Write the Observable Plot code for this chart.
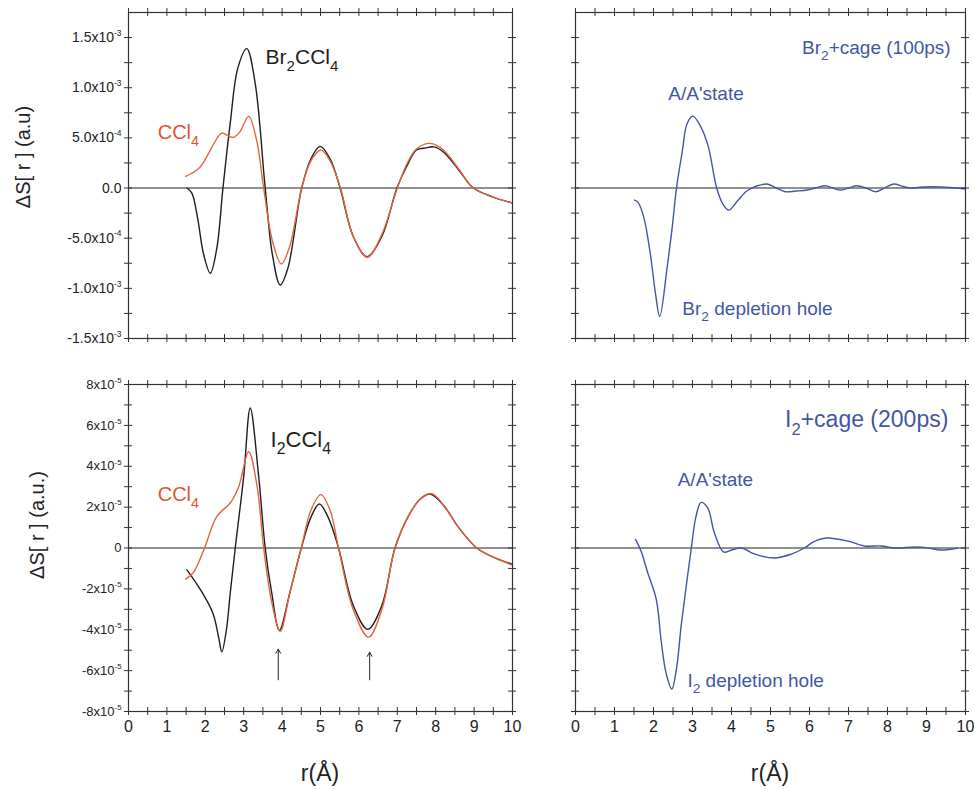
<!DOCTYPE html>
<html><head><meta charset="utf-8">
<script src="https://cdn.jsdelivr.net/npm/d3@7"></script>
<script src="https://cdn.jsdelivr.net/npm/@observablehq/plot@0.6"></script>
<style>
body{margin:0;background:#fff;font-family:"Liberation Sans",Arial,sans-serif;}
#wrap{position:relative;width:974px;height:789px;overflow:hidden;background:#fff;}
.panel{position:absolute;}
.panel svg{overflow:visible;}
.ytitle{position:absolute;transform:translate(-50%,-50%) rotate(-90deg);white-space:nowrap;font-size:20px;color:#222;}
.xtitle{position:absolute;transform:translate(-50%,-50%);white-space:nowrap;font-size:23px;color:#222;}
</style></head><body><div id="wrap"></div>
<script>
// ---------- data ----------
const BLACK = "#1e1e1e", ORANGE = "#e6633f", BLUE = "#4356a3", ORANGE_TXT = "#e4532e";

// Top-left: Br2CCl4 (black) and CCl4 (orange)
const br2ccl4_r = [1.52,1.65,1.8,1.95,2.13,2.3,2.46,2.65,2.85,3.08,3.3,3.56,3.75,3.95,4.15,4.51,4.75,4.99,5.25,5.51,5.85,6.21,6.6,6.99,7.25,7.5,7.75,7.95,8.2,8.6,8.98,9.5,10];
const br2ccl4_v = [0,-0.5e-4,-3e-4,-6.5e-4,-8.5e-4,-6e-4,0,6.5e-4,12e-4,13.9e-4,10.4e-4,0,-6.7e-4,-9.67e-4,-8e-4,0,2.9e-4,4.15e-4,2.9e-4,0,-4.8e-4,-6.84e-4,-4.8e-4,0,2.2e-4,3.8e-4,4.0e-4,4.1e-4,3.6e-4,1.8e-4,0,-0.9e-4,-1.5e-4];
const ccl4Top_r = [1.49,1.7,1.86,2.05,2.25,2.43,2.6,2.73,2.9,3.13,3.34,3.52,3.75,3.98,4.2,4.51,4.75,5.01,5.25,5.52,5.85,6.22,6.6,7.0,7.25,7.5,7.86,8.2,8.6,8.98,9.5,10];
const ccl4Top_v = [1.16e-4,1.6e-4,2.06e-4,3.2e-4,4.6e-4,5.48e-4,5.2e-4,5.05e-4,5.6e-4,7.14e-4,4.7e-4,0,-5.3e-4,-7.57e-4,-5.8e-4,0,2.7e-4,3.79e-4,2.7e-4,0,-4.8e-4,-6.9e-4,-4.6e-4,0,2.4e-4,3.9e-4,4.45e-4,3.8e-4,1.9e-4,0,-0.9e-4,-1.5e-4];

// Top-right: Br2 + cage (100 ps)
const br2cage_r = [1.51,1.6,1.75,1.92,2.05,2.16,2.35,2.48,2.59,2.74,2.86,3.01,3.2,3.4,3.62,3.78,3.93,4.15,4.4,4.65,4.91,5.15,5.38,5.65,5.94,6.15,6.41,6.6,6.79,7.0,7.22,7.45,7.69,7.92,8.16,8.4,8.59,8.9,9.19,9.6,10];
const br2cage_v = [-1.2e-4,-1.4e-4,-2.9e-4,-6.6e-4,-10.5e-4,-12.8e-4,-7.9e-4,-3.9e-4,0,3.7e-4,6.4e-4,7.17e-4,6.2e-4,4.2e-4,0,-1.6e-4,-2.2e-4,-1.3e-4,-0.27e-4,0.2e-4,0.4e-4,0,-0.37e-4,-0.3e-4,-0.2e-4,0,0.23e-4,0,-0.2e-4,0,0.23e-4,0,-0.37e-4,0,0.4e-4,0.15e-4,0,0.1e-4,0.13e-4,0.05e-4,-0.1e-4];

// Bottom-left: I2CCl4 (black) and CCl4 (orange)
const i2ccl4_r = [1.52,1.86,2.2,2.35,2.43,2.55,2.65,2.78,3.0,3.17,3.39,3.56,3.73,3.93,4.2,4.5,4.75,4.97,5.2,5.47,5.85,6.23,6.6,6.94,7.3,7.6,7.86,8.2,8.6,9.07,9.5,10];
const i2ccl4_v = [-1.07e-5,-2.0e-5,-3.2e-5,-4.4e-5,-5.08e-5,-4.0e-5,-2.2e-5,0,3.5e-5,6.85e-5,3.5e-5,0,-2.2e-5,-4.03e-5,-2.2e-5,0,1.5e-5,2.15e-5,1.5e-5,0,-2.8e-5,-3.98e-5,-2.8e-5,0,1.6e-5,2.4e-5,2.64e-5,2.1e-5,1.0e-5,0,-0.45e-5,-0.8e-5];
const ccl4Bot_r = [1.49,1.69,1.98,2.3,2.65,2.87,3.13,3.35,3.52,3.73,3.95,4.2,4.5,4.75,5.01,5.25,5.47,5.85,6.25,6.6,6.94,7.3,7.6,7.9,8.2,8.6,9.07,9.5,10];
const ccl4Bot_v = [-1.52e-5,-1.2e-5,0,1.55e-5,2.2e-5,3.0e-5,4.71e-5,3.0e-5,0,-2.65e-5,-4.08e-5,-2.2e-5,0,1.85e-5,2.61e-5,1.85e-5,0,-3.0e-5,-4.36e-5,-3.0e-5,0,1.6e-5,2.4e-5,2.66e-5,2.1e-5,1.0e-5,0,-0.45e-5,-0.84e-5];

// Bottom-right: I2 + cage (200 ps)
const i2cage_r = [1.54,1.68,1.85,2.07,2.2,2.32,2.47,2.59,2.71,2.84,2.97,3.09,3.22,3.39,3.56,3.8,4.0,4.25,4.6,5.1,5.53,5.87,6.1,6.43,6.98,7.41,7.84,8.18,8.69,9.0,9.38,9.8];
const i2cage_v = [0.42e-5,-0.15e-5,-1.2e-5,-2.5e-5,-4.6e-5,-6.1e-5,-6.9e-5,-5.9e-5,-3.8e-5,-1.85e-5,0,1.55e-5,2.23e-5,1.96e-5,0.75e-5,-0.2e-5,-0.1e-5,0,-0.3e-5,-0.49e-5,-0.3e-5,0,0.3e-5,0.49e-5,0.34e-5,0.1e-5,0.1e-5,0,0.05e-5,0.02e-5,-0.1e-5,0];

// Ticks and tick labels
const xMajor = [0,1,2,3,4,5,6,7,8,9,10];
const xMinor = [0.5,1.5,2.5,3.5,4.5,5.5,6.5,7.5,8.5,9.5];
const xLabels = ["0","1","2","3","4","5","6","7","8","9","10"];
const topYMajor = [-1.5e-3,-1.0e-3,-5e-4,0,5e-4,1.0e-3,1.5e-3];
const topYMinor = [-1.25e-3,-7.5e-4,-2.5e-4,2.5e-4,7.5e-4,1.25e-3];
const topYLabels = ["-1.5x10⁻³","-1.0x10⁻³","-5.0x10⁻⁴","0.0","5.0x10⁻⁴","1.0x10⁻³","1.5x10⁻³"];
const botYMajor = [-8e-5,-6e-5,-4e-5,-2e-5,0,2e-5,4e-5,6e-5,8e-5];
const botYMinor = [-7e-5,-5e-5,-3e-5,-1e-5,1e-5,3e-5,5e-5,7e-5];
const botYLabels = ["-8x10⁻⁵","-6x10⁻⁵","-4x10⁻⁵","-2x10⁻⁵","0","2x10⁻⁵","4x10⁻⁵","6x10⁻⁵","8x10⁻⁵"];

// Annotations
const topLeftNotes = [
  {t:"Br₂CCl₄", x:3.57, y:1.30e-3, c:BLACK, s:21, a:"start", ls:-0.5},
  {t:"CCl₄", x:0.76, y:5.5e-4, c:ORANGE_TXT, s:20, a:"start", ls:-1.2}
];
const topRightNotes = [
  {t:"Br₂+cage (100ps)", x:9.62, y:1.40e-3, c:BLUE, s:19, a:"end", ls:-0.3},
  {t:"A/A'state", x:2.38, y:9.36e-4, c:BLUE, s:19, a:"start", ls:-0.3},
  {t:"Br₂ depletion hole", x:2.74, y:-1.2e-3, c:BLUE, s:19, a:"start", ls:-0.3}
];
const botLeftNotes = [
  {t:"I₂CCl₄", x:3.7, y:5.3e-5, c:BLACK, s:22, a:"start", ls:-0.5},
  {t:"CCl₄", x:0.76, y:2.6e-5, c:ORANGE_TXT, s:20, a:"start", ls:-1.2}
];
const botRightNotes = [
  {t:"I₂+cage (200ps)", x:9.56, y:6.26e-5, c:BLUE, s:23, a:"end", ls:-0.8},
  {t:"A/A'state", x:2.62, y:3.35e-5, c:BLUE, s:19, a:"start", ls:-0.3},
  {t:"I₂ depletion hole", x:2.87, y:-6.5e-5, c:BLUE, s:19, a:"start", ls:-0.3}
];
const botLeftArrows = [
  {x:3.9, yFrom:-6.45e-5, yTo:-4.95e-5},
  {x:6.28, yFrom:-6.45e-5, yTo:-5.1e-5}
];

// ---------- drawing ----------
const zip = (r, v) => r.map((ri, i) => ({r: ri, v: v[i]}));

const SUP = {"⁻":"-","⁰":"0","¹":"1","²":"2","³":"3","⁴":"4","⁵":"5","⁶":"6","⁷":"7","⁸":"8","⁹":"9"};
const SUB = {"₀":"0","₁":"1","₂":"2","₃":"3","₄":"4","₅":"5","₆":"6"};
function richify(svg) {
  svg.querySelectorAll("text").forEach(t => {
    const s = t.textContent;
    if (![...s].some(c => SUP[c] || SUB[c])) return;
    const fs = parseFloat(getComputedStyle(t).fontSize) || 13;
    const runs = [];
    for (const c of s) {
      const k = SUP[c] ? "sup" : SUB[c] ? "sub" : "n";
      const ch = SUP[c] || SUB[c] || c;
      if (runs.length && runs[runs.length - 1].k === k) runs[runs.length - 1].s += ch;
      else runs.push({k, s: ch});
    }
    t.textContent = "";
    let shift = 0;
    for (const r of runs) {
      const ts = document.createElementNS("http://www.w3.org/2000/svg", "tspan");
      const target = r.k === "sup" ? -0.45 * fs : r.k === "sub" ? 0.33 * fs : 0;
      ts.setAttribute("dy", (target - shift).toFixed(2));
      shift = target;
      if (r.k === "sup") ts.setAttribute("font-size", (0.6 * fs).toFixed(1));
      if (r.k === "sub") ts.setAttribute("font-size", (0.72 * fs).toFixed(1));
      ts.textContent = r.s;
      t.appendChild(ts);
    }
  });
}

function panel(o) {
  const [y0, y1] = o.yDomain;
  const xT = xMajor.concat(xMinor);
  const yT = o.yMajor.concat(o.yMinor);
  const tk = {stroke: "#333", strokeWidth: 1};
  const marks = [
    Plot.ruleY([0], {stroke: "#222", strokeWidth: 1.1}),
    ...o.series.map(s => Plot.line(zip(s.r, s.v), {x: "r", y: "v", stroke: s.color, strokeWidth: 1.4, curve: "catmull-rom"})),
    Plot.frame({stroke: "#333", strokeWidth: 1.2}),
    Plot.ruleX(xT, {x: d => d, y1: () => y0, y2: () => y0, insetTop: 4, insetBottom: 4, ...tk}),
    Plot.ruleX(xT, {x: d => d, y1: () => y1, y2: () => y1, insetTop: 4, insetBottom: 4, ...tk}),
    Plot.ruleY(yT, {y: d => d, x1: () => 0, x2: () => 0, insetLeft: 4, insetRight: 4, ...tk}),
    Plot.ruleY(yT, {y: d => d, x1: () => 10, x2: () => 10, insetLeft: 4, insetRight: 4, ...tk}),
    ...o.notes.map(n => Plot.text([n], {x: "x", y: "y", text: "t", fill: n.c, fontSize: n.s, textAnchor: n.a, lineAnchor: "middle", letterSpacing: n.ls + "px"})),
    ...(o.arrows || []).map(a => Plot.arrow([a], {x1: "x", x2: "x", y1: "yFrom", y2: "yTo", stroke: "#222", strokeWidth: 1, headLength: 7, bend: 0}))
  ];
  if (o.yLabels) marks.push(Plot.axisY(o.yMajor, {tickSize: 0, tickPadding: 7, fontSize: o.yFont, label: null, tickFormat: d => o.yLabels[o.yMajor.indexOf(d)]}));
  if (o.xAxis) marks.push(Plot.axisX(xMajor, {tickSize: 0, tickPadding: 9, fontSize: 16, label: null, tickFormat: d => xLabels[xMajor.indexOf(d)]}));
  const svg = Plot.plot({
    width: o.width, height: o.height,
    marginLeft: o.ml, marginRight: o.mr, marginTop: o.mt, marginBottom: o.mb,
    style: {fontFamily: "'Liberation Sans', Arial, sans-serif", color: "#222", background: "transparent", overflow: "visible"},
    x: {domain: [0, 10], axis: o.xAxis ? undefined : null},
    y: {domain: o.yDomain, axis: o.yLabels ? undefined : null},
    marks
  });
  const div = document.createElement("div");
  div.className = "panel";
  div.style.left = o.left + "px";
  div.style.top = o.top + "px";
  div.appendChild(svg);
  document.getElementById("wrap").appendChild(div);
  richify(svg);
}

const topDomain = [-1.5e-3, 1.75e-3];
const botDomain = [-8e-5, 8e-5];

panel({left: 0, top: 0, width: 530, height: 350, ml: 128, mr: 18, mt: 12, mb: 12,
  yDomain: topDomain, yMajor: topYMajor, yMinor: topYMinor, yLabels: topYLabels, yFont: 14, xAxis: false,
  series: [{r: br2ccl4_r, v: br2ccl4_v, color: BLACK}, {r: ccl4Top_r, v: ccl4Top_v, color: ORANGE}],
  notes: topLeftNotes});
panel({left: 540, top: 0, width: 434, height: 350, ml: 35, mr: 9, mt: 12, mb: 12,
  yDomain: topDomain, yMajor: topYMajor, yMinor: topYMinor, yLabels: null, xAxis: false,
  series: [{r: br2cage_r, v: br2cage_v, color: BLUE}],
  notes: topRightNotes});
panel({left: 0, top: 360, width: 530, height: 400, ml: 128, mr: 18, mt: 24, mb: 49,
  yDomain: botDomain, yMajor: botYMajor, yMinor: botYMinor, yLabels: botYLabels, yFont: 13, xAxis: true,
  series: [{r: i2ccl4_r, v: i2ccl4_v, color: BLACK}, {r: ccl4Bot_r, v: ccl4Bot_v, color: ORANGE}],
  notes: botLeftNotes, arrows: botLeftArrows});
panel({left: 540, top: 360, width: 434, height: 400, ml: 35, mr: 9, mt: 24, mb: 49,
  yDomain: botDomain, yMajor: botYMajor, yMinor: botYMinor, yLabels: null, xAxis: true,
  series: [{r: i2cage_r, v: i2cage_v, color: BLUE}],
  notes: botRightNotes});

// axis titles
const titles = [
  {cls: "ytitle", t: "ΔS[ r ] (a.u)", x: 23, y: 157},
  {cls: "ytitle", t: "ΔS[ r ] (a.u.)", x: 37, y: 525},
  {cls: "xtitle", t: "r(Å)", x: 320, y: 773},
  {cls: "xtitle", t: "r(Å)", x: 770, y: 773}
];
for (const tt of titles) {
  const d = document.createElement("div");
  d.className = tt.cls;
  d.textContent = tt.t;
  d.style.left = tt.x + "px";
  d.style.top = tt.y + "px";
  document.getElementById("wrap").appendChild(d);
}
</script></body></html>
